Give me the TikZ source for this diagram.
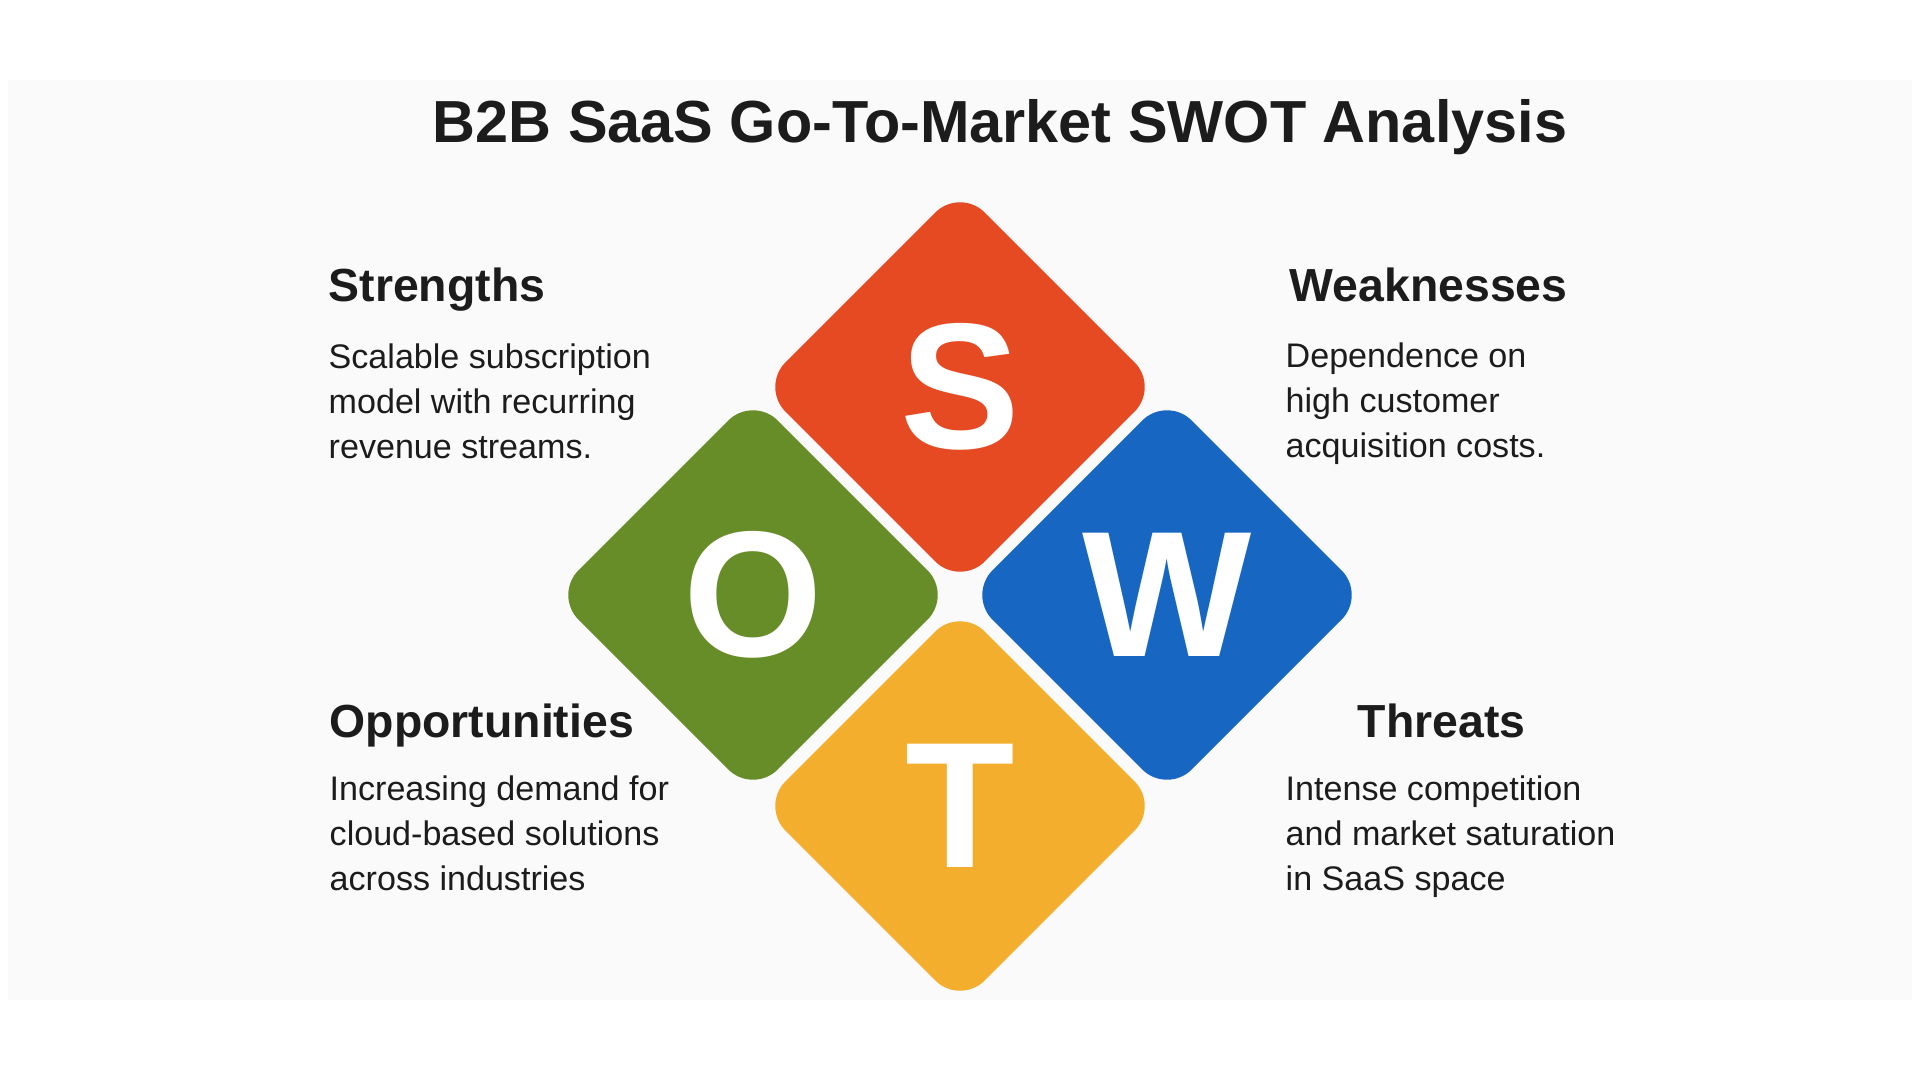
\documentclass[tikz,border=0pt]{standalone}
\usepackage{fontspec}
\setmainfont{Liberation Sans}
\usetikzlibrary{shapes.geometric}

\definecolor{swotS}{HTML}{E64A22}
\definecolor{swotW}{HTML}{1766C2}
\definecolor{swotO}{HTML}{678D29}
\definecolor{swotT}{HTML}{F4AE2E}
\definecolor{ink}{HTML}{1C1C1C}
\definecolor{panel}{HTML}{FAFAFA}

\newcommand{\swotTitleFont}{\fontsize{16.9}{20}\selectfont\bfseries}
\newcommand{\swotHeadFont}{\fontsize{13.2}{16}\selectfont\bfseries}
\newcommand{\swotBodyFont}{\fontsize{9.7}{12.85}\selectfont}
\newcommand{\swotLetterFont}{\fontsize{51}{60}\selectfont\bfseries}

\begin{document}
\begin{tikzpicture}[
  tile/.style={diamond, minimum size=3.99cm, inner sep=0pt, rounded corners=0.35cm, text=white, font=\swotLetterFont},
  head/.style={anchor=base west, inner sep=0pt, text=ink, font=\swotHeadFont},
  body/.style={anchor=north west, inner sep=0pt, align=left, text=ink, font=\swotBodyFont}]
  \useasboundingbox (0,0) rectangle (19.2,-10.8);
  \fill[white] (0,0) rectangle (19.2,-10.8);
  \fill[panel] (0.08,-0.8) rectangle (19.12,-10.0);

  \node[anchor=base, inner sep=0pt, text=ink, font=\swotTitleFont] (title) at (10.0,-1.43) {B2B SaaS Go-To-Market SWOT Analysis};

  \node[tile, fill=swotS] (s) at (9.60,-3.87) {S};
  \node[tile, fill=swotO] (o) at (7.53,-5.95) {O};
  \node[tile, fill=swotW] (w) at (11.67,-5.95) {W};
  \node[tile, fill=swotT] (t) at (9.60,-8.06) {T};

  \node[head] (shead) at (3.28,-3.02) {Strengths};
  \node[body] (sbody) at (3.28,-3.43) {Scalable subscription\\ model with recurring\\ revenue streams.};

  \node[head] (whead) at (12.89,-3.02) {Weaknesses};
  \node[body] (wbody) at (12.85,-3.42) {Dependence on\\ high customer\\ acquisition costs.};

  \node[head] (ohead) at (3.29,-7.37) {Opportunities};
  \node[body] (obody) at (3.29,-7.75) {Increasing demand for\\ cloud-based solutions\\ across industries};

  \node[head] (thead) at (13.57,-7.37) {Threats};
  \node[body] (tbody) at (12.85,-7.75) {Intense competition\\ and market saturation\\ in SaaS space};
\end{tikzpicture}
\end{document}
